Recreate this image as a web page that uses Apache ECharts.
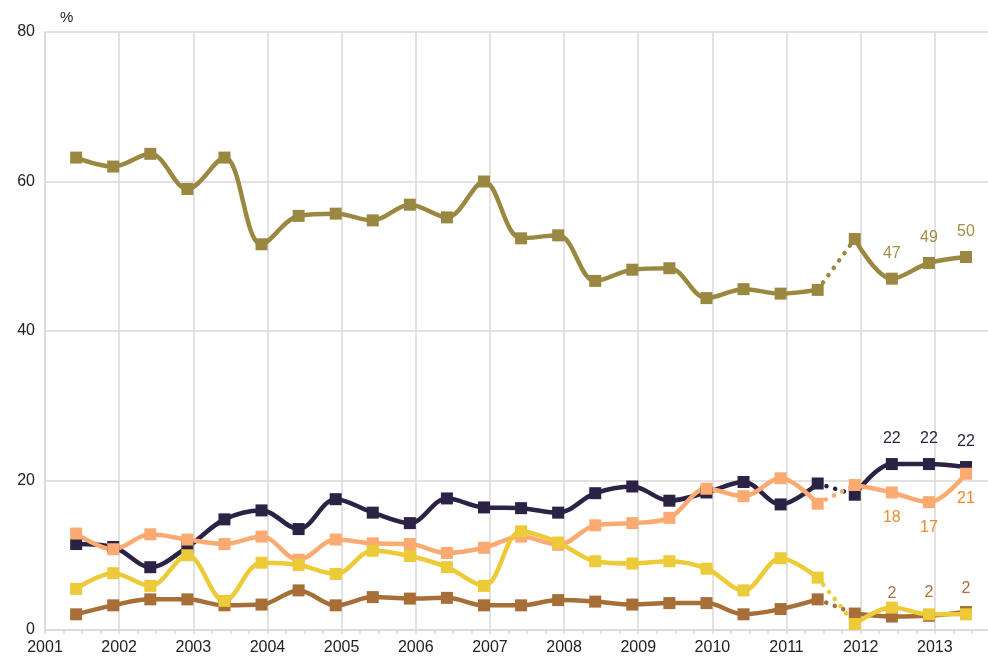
<!DOCTYPE html>
<html>
<head>
<meta charset="utf-8">
<script src="https://cdn.jsdelivr.net/npm/echarts@6/dist/echarts.min.js"></script>
<style>
  html, body { margin: 0; padding: 0; background: #fff; }
  #chart { width: 988px; height: 657px; }
</style>
</head>
<body>
<div id="chart"></div>
<script>
// survey waves (spring / autumn), as decimal years
const periods = [2001.42, 2001.92, 2002.42, 2002.92, 2003.42, 2003.92, 2004.42, 2004.92,
  2005.42, 2005.92, 2006.42, 2006.92, 2007.42, 2007.92, 2008.42, 2008.92, 2009.42, 2009.92,
  2010.42, 2010.92, 2011.42, 2011.92, 2012.42, 2012.92, 2013.42];

const olive = [63.2, 62.0, 63.7, 59.0, 63.2, 51.6, 55.4, 55.7, 54.8, 56.9, 55.2, 60.0, 52.4,
  52.8, 46.7, 48.2, 48.4, 44.4, 45.6, 45.0, 45.5, 52.3, 47.0, 49.1, 49.9];
const navy = [11.5, 11.1, 8.4, 11.1, 14.8, 16.0, 13.5, 17.5, 15.7, 14.3, 17.6, 16.4, 16.3,
  15.7, 18.3, 19.2, 17.3, 18.4, 19.8, 16.8, 19.6, 18.1, 22.2, 22.2, 21.8];
const peach = [12.9, 10.8, 12.8, 12.1, 11.5, 12.5, 9.4, 12.1, 11.6, 11.5, 10.3, 11.0, 12.5,
  11.4, 14.0, 14.3, 15.0, 18.9, 17.9, 20.3, 16.9, 19.4, 18.4, 17.1, 20.9];
const yellow = [5.5, 7.6, 5.9, 10.0, 3.9, 9.0, 8.7, 7.5, 10.6, 9.9, 8.4, 5.9, 13.2, 11.7,
  9.2, 8.9, 9.2, 8.2, 5.3, 9.6, 7.0, 0.8, 3.0, 2.1, 2.1];
const brown = [2.1, 3.3, 4.1, 4.1, 3.3, 3.4, 5.3, 3.3, 4.4, 4.2, 4.3, 3.3, 3.3, 4.0, 3.8,
  3.4, 3.6, 3.6, 2.1, 2.8, 4.1, 2.2, 1.8, 1.9, 2.4];

const yTicks = [0, 20, 40, 60, 80];
const xYears = [2001, 2002, 2003, 2004, 2005, 2006, 2007, 2008, 2009, 2010, 2011, 2012, 2013];

// last wave before the break in the series (dotted link to the next one)
const breakIdx = 20;
const labelFrom = 22;

const gridColor = '#d9d9d9';
const font = 'Liberation Sans, Arial, sans-serif';

const lines = [
  { name: 'A', data: olive, color: '#9a8840', labelColor: '#a0904a', labelPos: 'top', dist: 11 },
  { name: 'B', data: brown, color: '#a86e37', labelColor: '#a8703a', labelPos: 'top', dist: 9 },
  { name: 'C', data: navy, color: '#2b2246', labelColor: '#2b2246', labelPos: 'top', dist: 11 },
  { name: 'D', data: peach, color: '#fbaa72', labelColor: '#ee8a2e', labelPos: 'bottom', dist: 11 },
  { name: 'E', data: yellow, color: '#ecca38', labelColor: null, labelPos: 'top', dist: 11 }
];

const series = [];
lines.forEach((l) => {
  const pts = l.data.map((v, i) => [periods[i], v]);
  const solid = {
    type: 'line',
    smooth: 0.35,
    symbol: 'rect',
    symbolSize: 12,
    lineStyle: { color: l.color, width: 4.5 },
    itemStyle: { color: l.color },
    emphasis: { disabled: true },
    animation: false
  };
  series.push(Object.assign({}, solid, {
    name: l.name,
    data: pts.slice(0, breakIdx + 1)
  }));
  series.push(Object.assign({}, solid, {
    name: l.name,
    data: pts.slice(breakIdx + 1).map((p, j) => {
      const idx = breakIdx + 1 + j;
      return {
        value: p,
        label: {
          show: l.labelColor !== null && idx >= labelFrom,
          position: l.labelPos,
          distance: l.dist,
          color: l.labelColor || '#000',
          fontSize: 16,
          fontFamily: font,
          formatter: (d) => Math.round(d.value[1])
        }
      };
    })
  }));
  series.push({
    type: 'line',
    name: l.name,
    data: pts.slice(breakIdx, breakIdx + 2),
    symbol: 'none',
    lineStyle: { color: l.color, width: 4.5, type: [0.1, 9], cap: 'round' },
    emphasis: { disabled: true },
    animation: false,
    z: 1
  });
});

const chart = echarts.init(document.getElementById('chart'), null, { renderer: 'canvas' });
chart.setOption({
  backgroundColor: '#fff',
  animation: false,
  title: {
    text: '%',
    left: 55,
    top: 5,
    textStyle: { fontSize: 15, fontWeight: 'normal', color: '#222', fontFamily: font }
  },
  // the axis runs to 2014, just past the right edge of the picture
  grid: {
    left: 45, width: 964, top: 32, height: 598,
    containLabel: false, outerBoundsMode: 'none'
  },
  xAxis: {
    type: 'value',
    min: xYears[0],
    max: 2014,
    interval: 1,
    axisLine: { show: true, lineStyle: { color: gridColor, width: 1.5 } },
    axisTick: { show: true, length: 4, lineStyle: { color: gridColor, width: 1.5 } },
    minorTick: { show: true, splitNumber: 4, length: 4, lineStyle: { color: gridColor, width: 1.5 } },
    splitLine: { show: true, lineStyle: { color: gridColor, width: 1.5 } },
    axisLabel: {
      color: '#222',
      fontSize: 16,
      fontFamily: font,
      margin: 10,
      formatter: (v) => (xYears.indexOf(v) >= 0 ? String(v) : '')
    }
  },
  yAxis: {
    type: 'value',
    min: yTicks[0],
    max: yTicks[yTicks.length - 1],
    interval: 20,
    axisLine: { show: true, lineStyle: { color: gridColor, width: 1.5 } },
    axisTick: { show: false },
    splitLine: { show: true, lineStyle: { color: gridColor, width: 1.5 } },
    axisLabel: { color: '#222', fontSize: 16, fontFamily: font, margin: 10 }
  },
  series: series
});
</script>
</body>
</html>
